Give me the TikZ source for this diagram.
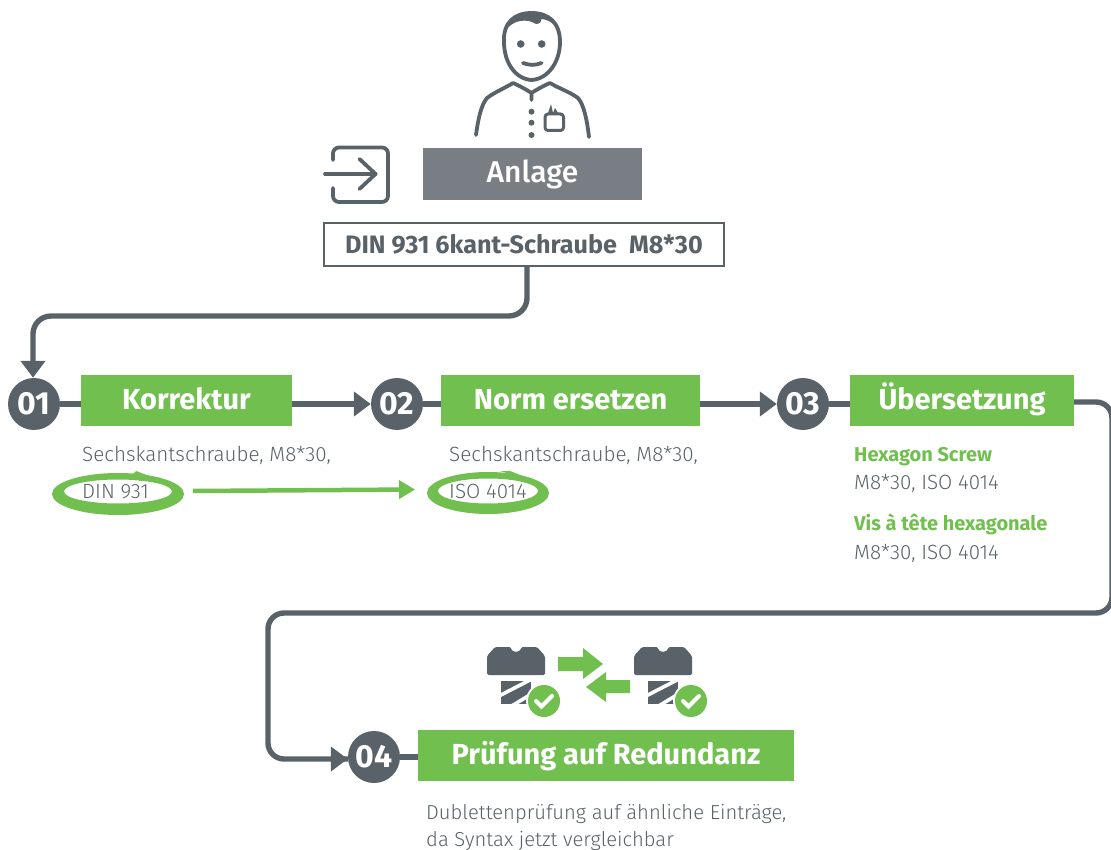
\documentclass[tikz,border=0pt]{standalone}
\usepackage{fontspec}
\setmainfont{Fira Sans}
\newfontfamily\lightf{Fira Sans Light}
\newfontfamily\medf{Fira Sans Medium}
\usetikzlibrary{arrows.meta,calc}
\definecolor{dark}{HTML}{596268}
\definecolor{grn}{HTML}{70BF4F}
\definecolor{greybox}{HTML}{787E83}
\newcommand{\fsz}[1]{\fontsize{#1}{#1}\selectfont}
\tikzset{
 x=1pt,y=-1pt,
 greenbox/.style={fill=grn,text=white,inner sep=0,font=\fsz{29}\bfseries,text height=19pt,text depth=1pt},
 numdot/.style={circle,fill=dark,text=white,inner sep=0,minimum size=52pt,font=\fsz{32}\bfseries},
 conn/.style={draw=dark,line width=5.4pt},
 arr/.style={conn,-{Triangle[length=17pt,width=24pt]}},
 bodytxt/.style={anchor=base west,inner sep=0,text=dark,font=\fsz{20.6}\lightf},
 greentxt/.style={anchor=base west,inner sep=0,text=grn,font=\fsz{20}\bfseries},
 icon/.style={draw=dark,line width=3.8pt,line cap=round,line join=round},
}
\newcommand{\bolt}[1]{%
 \begin{scope}[shift={(#1,0)}]
  \fill[dark,rounded corners=1.5pt] (487,656)--(495,647)--(511,647) arc[start angle=180,end angle=360,radius=5pt] --(537,647)--(545,656)--(545,675)--(487,675)--cycle;
  \fill[dark] (501,681)--(531,681)--(531,704)--(501,704)--cycle;
  \draw[white,line width=3.6pt] (497,697)--(532,679);
  \draw[white,line width=3.6pt] (510,707)--(538,690);
 \end{scope}}
\newcommand{\checkdot}[1]{%
 \fill[white] (#1,701) circle[radius=18pt];
 \fill[grn] (#1,701) circle[radius=16pt];
 \draw[white,line width=4pt,line cap=round,line join=miter] ($(#1,701)+(-8,0)$)--($(#1,701)+(-2.5,5.5)$)--($(#1,701)+(8,-5)$);}
\begin{document}
\begin{tikzpicture}
\useasboundingbox (0,0) rectangle (1111,850);
% person
\draw[icon] (531.5,80) .. controls (515,79) and (504,62) .. (504,42) .. controls (503,22) and (515,13) .. (531.5,13) .. controls (548,13) and (560,22) .. (560,42) .. controls (560,62) and (548,79) .. (531.5,80);
\fill[dark] (506,30) .. controls (510,14) and (525,11) .. (537,12) .. controls (548,13) and (554,20) .. (557,27) .. controls (552,22) and (546,19) .. (541,19) .. controls (542,22) and (539,24) .. (536,24) .. controls (527,18) and (513,20) .. (506,30) -- cycle;
\fill[dark] (520.7,44) circle[radius=3.8pt] (541.7,44) circle[radius=3.8pt];
\draw[icon] (523,63) .. controls (530,65.5) and (535,65.5) .. (541.5,63);
\draw[icon] (476,135) .. controls (478,120) and (481,105) .. (487,98) .. controls (495,92) and (505,88) .. (513,83) .. controls (518,85) and (527,90) .. (531.5,93) -- (531.5,100);
\draw[icon] (589,137) .. controls (587,120) and (584,105) .. (578,98) .. controls (570,92) and (558,88) .. (550,83) .. controls (545,85) and (536,90) .. (531.5,93);
\fill[dark] (531.5,111.7) circle[radius=3pt] (531.5,122.7) circle[radius=3pt] (531.5,135) circle[radius=3pt];
\draw[icon,line width=3pt,rounded corners=3pt] (545,114) -- (545,130.5) -- (563.5,130.5) -- (563.5,114) -- cycle;
\fill[dark] (548,113)--(551,104)--(553,113)--(555,108)--(558,113)--cycle;
% entry icon
\draw[icon,rounded corners=6pt] (333,160) -- (333,147.5) -- (388,147.5) -- (388,202) -- (333,202) -- (333,188);
\coordinate (ea) at (325,174);
\coordinate (eb) at (375.5,174);
\draw[icon] (ea) -- (eb);
\draw[icon] (359.5,159) -- (eb) -- (359.5,189);
% top boxes
\node[fill=greybox,text=white,minimum width=219pt,minimum height=52pt,inner sep=0,font=\fsz{30}\medf] (anlage) at (532.5,174) {Anlage};
\node[draw=dark,line width=2.5pt,fill=white,minimum width=400pt,minimum height=43pt,inner sep=0,text=dark,font=\fsz{25.2}\bfseries] (din) at (524,244.5) {DIN 931 6kant-Schraube\ \ M8*30};
% step nodes
\node[numdot] (n1) at (34,404) {01};
\node[numdot] (n2) at (397,404) {02};
\node[numdot] (n3) at (803,404) {03};
\node[numdot] (n4) at (374,757) {04};
\node[greenbox,minimum width=211pt,minimum height=51pt] (b1) at (186.5,400.5) {Korrektur};
\node[greenbox,minimum width=259pt,minimum height=51pt] (b2) at (570.5,400.5) {Norm ersetzen};
\node[greenbox,minimum width=224pt,minimum height=51pt] (b3) at (962,400.5) {Übersetzung};
\node[greenbox,minimum width=376pt,minimum height=51pt] (b4) at (606,755.5) {Prüfung auf Redundanz};
% connectors
\coordinate (c1a) at (527,316);
\coordinate (c3a) at (1112,402);
\coordinate (c3b) at (1112,613);
\coordinate (c3c) at (268,613);
\coordinate (c3d) at (268,759);
\draw[arr,rounded corners=18pt] ($(din.south)+(3,0)$) -- (c1a) -- (33,316) -- (n1.north -| 33,0);
\draw[conn] (n1) -- (n1 -| b1.west);
\draw[arr] (b1.east |- n1) -- (n2);
\draw[conn] (n2) -- (n2 -| b2.west);
\draw[arr] (b2.east |- n2) -- (n3);
\draw[conn] (n3) -- (n3 -| b3.west);
\draw[conn,rounded corners=16pt] (b3.east |- c3a) -- (c3a) -- (c3b) -- (c3c) -- (c3d) -- (n4.west |- c3d) ;
\draw[arr] ($(n4.west |- c3d)+(-3,0)$) -- (n4.west |- c3d);
\draw[conn] (n4) -- (n4 -| b4.west);
% texts
\node[bodytxt] (t1) at (82,461) {Sechskantschraube, M8*30,};
\node[bodytxt] (t2) at (449,461) {Sechskantschraube, M8*30,};
\node[bodytxt] (d1) at (82,498) {DIN 931};
\node[bodytxt] (d2) at (449,498) {ISO 4014};
\node[greentxt] (g1) at (854,461) {Hexagon Screw};
\node[bodytxt] (g1b) at (854,489) {M8*30, ISO 4014};
\node[greentxt] (g2) at (854,530) {Vis à tête hexagonale};
\node[bodytxt] (g2b) at (854,559) {M8*30, ISO 4014};
\node[bodytxt,font=\fsz{20.2}\lightf] (u1) at (426,819) {Dublettenprüfung auf ähnliche Einträge,};
\node[bodytxt,font=\fsz{20.2}\lightf] (u2) at (426,846) {da Syntax jetzt vergleichbar};
% hand-drawn rings
\fill[grn,even odd rule] (118,494) ellipse[x radius=66pt,y radius=21pt] (118,491.5) ellipse[x radius=54pt,y radius=12pt];
\fill[grn] (131,476)--(136,471)--(152,477)--(140,481)--cycle;
\fill[grn,even odd rule] (488,493) ellipse[x radius=61pt,y radius=21pt] (488,491) ellipse[x radius=50pt,y radius=12.5pt];
\fill[grn] (500,471)--(510,471)--(538,482)--(520,477)--cycle;
\coordinate (ga) at (193,491);
\coordinate (gb) at (415,489.5);
\draw[draw=grn,line width=4.5pt,-{Triangle[length=16pt,width=18pt]}] (ga) -- (gb);
% bolts icon
\bolt{0}
\bolt{147}
\checkdot{544}
\checkdot{691}
\fill[grn] (558,657)--(583,657)--(583,648)--(603,664)--(583,679)--(583,671)--(558,671)--cycle;
\fill[grn] (630,680)--(606,680)--(606,672)--(586,687)--(606,702)--(606,693)--(630,693)--cycle;
\end{tikzpicture}
\end{document}
